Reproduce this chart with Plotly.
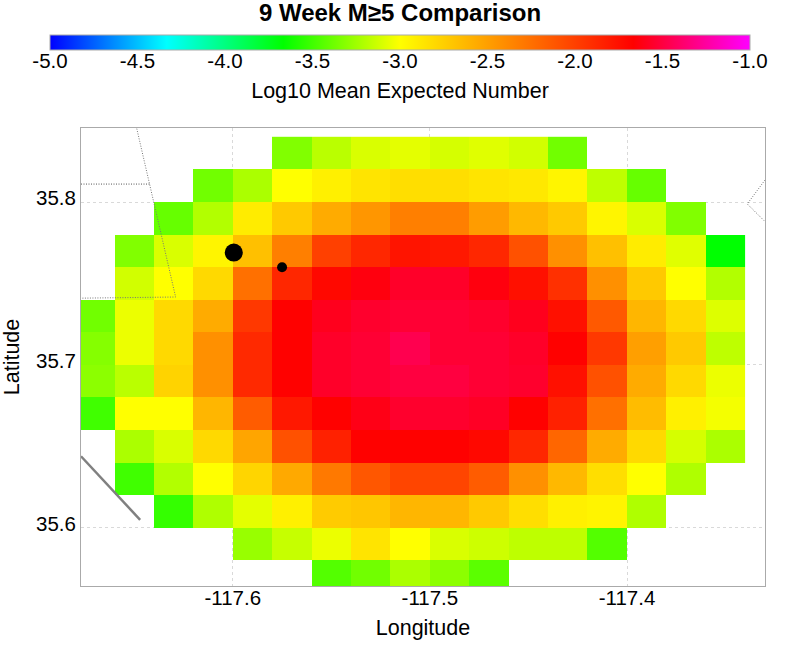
import plotly.graph_objects as go

lons = [-117.67, -117.65, -117.63, -117.61, -117.59, -117.57, -117.55, -117.53, -117.51,
        -117.49, -117.47, -117.45, -117.43, -117.41, -117.39, -117.37, -117.35]
lats = [35.83, 35.81, 35.79, 35.77, 35.75, 35.73, 35.71, 35.69, 35.67, 35.65, 35.63, 35.61, 35.59, 35.57]
N = None
r_3583 = [N, N, N, N, N, -3.33, -3.18, -3.10, -3.07, -3.11, -3.08, -3.12, -3.37, N, N, N, N]
r_3581 = [N, N, N, -3.37, -3.22, -3.00, -2.92, -2.86, -2.83, -2.83, -2.86, -2.88, -2.95, -3.17, -3.40, N, N]
r_3579 = [N, N, -3.40, -3.20, -2.90, -2.72, -2.56, -2.45, -2.33, -2.33, -2.48, -2.63, -2.72, -2.95, -3.10, -3.33, N]
r_3577 = [N, -3.33, -3.10, -2.95, -2.67, -2.33, -2.00, -1.87, -1.77, -1.79, -1.87, -2.09, -2.42, -2.67, -2.90, -3.08, -3.67]
r_3575 = [N, -3.12, -3.00, -2.80, -2.25, -1.87, -1.71, -1.63, -1.56, -1.56, -1.63, -1.75, -1.92, -2.42, -2.72, -3.00, -3.20]
r_3573 = [-3.37, -3.05, -2.80, -2.56, -1.96, -1.67, -1.59, -1.55, -1.53, -1.53, -1.55, -1.59, -1.75, -2.13, -2.62, -2.80, -3.09]
r_3571 = [-3.32, -3.05, -2.80, -2.42, -1.88, -1.67, -1.56, -1.53, -1.46, -1.53, -1.53, -1.56, -1.67, -1.96, -2.50, -2.72, -3.17]
r_3569 = [-3.30, -3.18, -2.77, -2.42, -1.88, -1.67, -1.56, -1.53, -1.50, -1.50, -1.53, -1.55, -1.75, -2.09, -2.56, -2.80, -3.05]
r_3567 = [-3.50, -3.00, -3.00, -2.62, -2.15, -1.79, -1.67, -1.61, -1.55, -1.55, -1.57, -1.67, -1.84, -2.25, -2.65, -2.92, -3.03]
r_3565 = [N, -3.22, -3.10, -2.80, -2.53, -2.09, -1.84, -1.67, -1.67, -1.67, -1.71, -1.87, -2.20, -2.56, -2.80, -3.11, -3.22]
r_3563 = [N, -3.50, -3.20, -3.00, -2.78, -2.55, -2.30, -2.12, -2.03, -2.03, -2.15, -2.42, -2.63, -2.83, -3.00, -3.21, N]
r_3561 = [N, N, -3.53, -3.21, -3.07, -2.92, -2.73, -2.70, -2.62, -2.62, -2.72, -2.83, -2.92, -2.94, -3.21, N, N]
r_3559 = [N, N, N, N, -3.27, -3.15, -3.05, -2.86, -3.00, -3.10, -3.13, -3.17, -3.17, -3.45, N, N, N]
r_3557 = [N, N, N, N, N, N, -3.45, -3.37, -3.22, -3.30, -3.43, N, N, N, N, N, N]
grid_rows = [r_3583, r_3581, r_3579, r_3577, r_3575, r_3573, r_3571, r_3569, r_3567, r_3565, r_3563, r_3561, r_3559, r_3557]

cb_ticks = [-5.0, -4.5, -4.0, -3.5, -3.0, -2.5, -2.0, -1.5, -1.0]
x_ticks = [-117.6, -117.5, -117.4]
y_ticks = [35.6, 35.7, 35.8]

eq_lons = [-117.5995, -117.575]
eq_lats = [35.769, 35.760]
eq_sizes = [18, 10]

fault_a_lon = [-117.6487, -117.629, -117.677]
fault_a_lat = [35.845, 35.7417, 35.741]
fault_b_lon = [-117.677, -117.642]
fault_b_lat = [35.811, 35.811]
fault_c_lon = [-117.33, -117.339, -117.33]
fault_c_lat = [35.8135, 35.7988, 35.788]
fault_d_lon = [-117.677, -117.647]
fault_d_lat = [35.644, 35.605]

scale = [[0, "#0000ff"], [1/6, "#00ffff"], [1/3, "#00ff00"], [1/2, "#ffff00"], [5/6, "#ff0000"], [1, "#ff00ff"]]
FONT = "Liberation Sans"

fig = go.Figure()
fig.add_trace(go.Heatmap(
    x=lons, y=lats, z=grid_rows, zmin=-5, zmax=-1, colorscale=scale, hoverongaps=False,
    colorbar=dict(orientation="h", lenmode="pixels", len=700, thickness=15, thicknessmode="pixels",
                  x=(400 - 81) / 684, xanchor="center", y=1.0 + (128 - 35) / 458, yanchor="top", ypad=0, xpad=0,
                  tickmode="array", tickvals=cb_ticks, ticktext=[f"{t:.1f}" for t in cb_ticks],
                  ticks="", outlinecolor="#aaaaaa", outlinewidth=1,
                  tickfont=dict(family=FONT, size=20.5, color="black"),
                  title=dict(text="Log10 Mean Expected Number", side="bottom",
                             font=dict(family=FONT, size=21.5, color="black"))),
))
for lx, ly, col, w, dash in [
    (fault_a_lon, fault_a_lat, "#777777", 1, "1px,1.5px"),
    (fault_b_lon, fault_b_lat, "#555555", 1, "1px,1.5px"),
    (fault_c_lon, fault_c_lat, "#777777", 1, "1px,1.5px"),
    (fault_d_lon, fault_d_lat, "#808080", 2.5, "solid"),
]:
    fig.add_trace(go.Scatter(x=lx, y=ly, mode="lines", line=dict(color=col, width=w, dash=dash),
                             showlegend=False, hoverinfo="skip"))
fig.add_trace(go.Scatter(x=eq_lons, y=eq_lats, mode="markers",
                         marker=dict(color="black", size=eq_sizes, opacity=1, line=dict(width=0)), showlegend=False))

axis_common = dict(showline=True, linecolor="#aaaaaa", linewidth=1, mirror=True, ticks="",
                   showgrid=True, gridcolor="#d9d9d9", griddash="3px,3px", gridwidth=1, zeroline=False,
                   tickfont=dict(family=FONT, size=20.5, color="black"))
fig.update_xaxes(range=[-117.677, -117.330], tickvals=x_ticks, ticktext=[f"{t:.1f}" for t in x_ticks],
                 title=dict(text="Longitude", font=dict(family=FONT, size=21.5, color="black"), standoff=4),
                 **axis_common)
fig.update_yaxes(range=[35.5644, 35.8454], tickvals=y_ticks, ticktext=[f"{t:.1f}" for t in y_ticks],
                 title=dict(text="Latitude", font=dict(family=FONT, size=21.5, color="black"), standoff=10),
                 **axis_common)
fig.update_layout(
    width=800, height=649, autosize=False, paper_bgcolor="white", plot_bgcolor="white",
    margin=dict(l=81, r=35, t=128, b=63, autoexpand=False), showlegend=False,
    title=dict(text="<b>9 Week M≥5 Comparison</b>", x=0.5, xanchor="center", xref="container",
               y=1 - 13 / 649, yanchor="middle", yref="container",
               font=dict(family=FONT, size=24, color="black")),
)
post = """
document.body.style.margin='0';
function shift(sel, dx, dy){
  document.querySelectorAll(sel).forEach(function(el){
    var t = el.getAttribute('transform') || '';
    el.setAttribute('transform', 'translate(' + dx + ',' + dy + ') ' + t);
  });
}
shift('.colorbar .cbaxis', 0, -8);
shift('.colorbar .cbtitleunshift', 0, -3);
shift('.xaxislayer-above', 0, -7);
shift('.yaxislayer-above', 0, -4);
"""
fig.write_html("out.html", post_script=post, config={"displayModeBar": False})
